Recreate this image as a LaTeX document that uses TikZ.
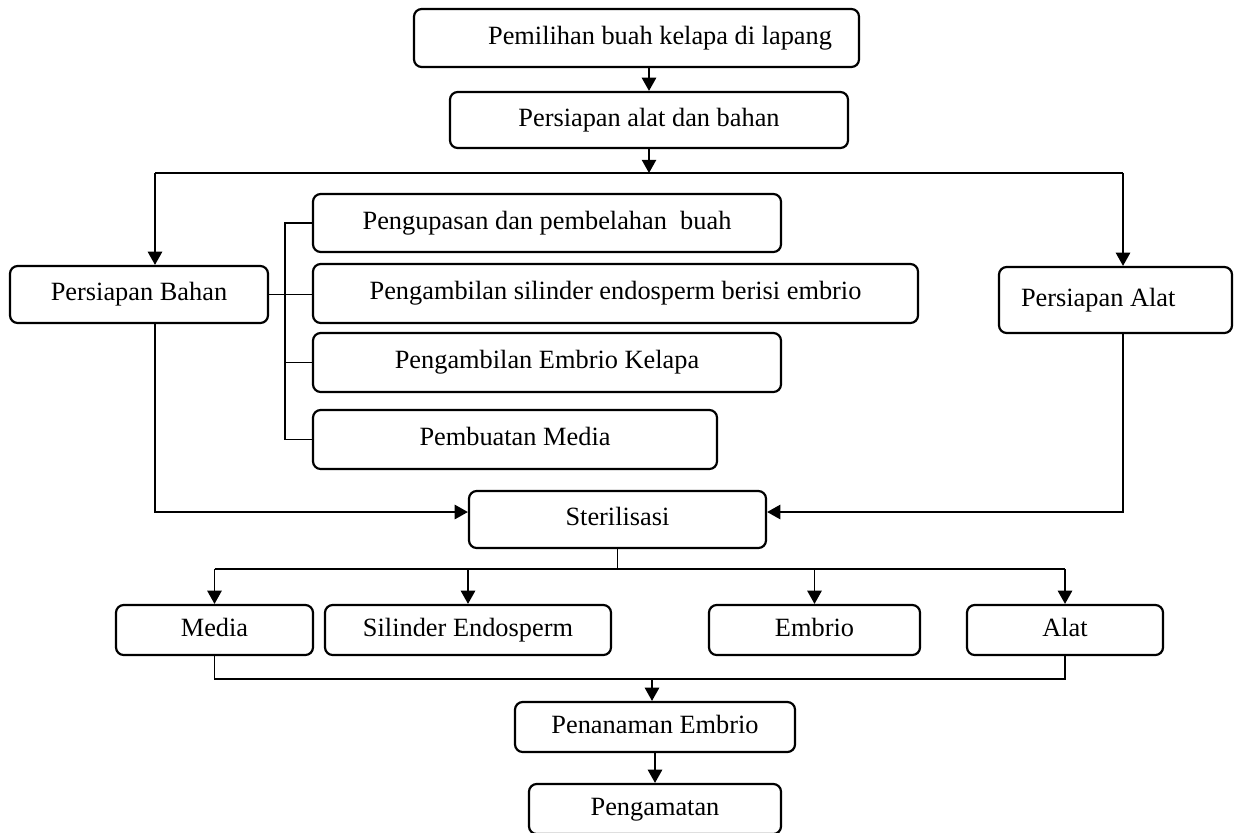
\documentclass[tikz,border=0pt]{standalone}
\usepackage{fontspec}
\setmainfont{Liberation Serif}
\usetikzlibrary{arrows.meta}

\begin{document}
\begin{tikzpicture}[x=0.016cm, y=-0.016cm,
    kotak/.style={draw, rounded corners=3.5pt, line width=1pt, inner sep=0pt,
        text height=1.6ex, text depth=0.4ex, font=\fontsize{12}{14}\selectfont},
    uk/.style 2 args={minimum width=#1*0.016cm, minimum height=#2*0.016cm},
    garis/.style={line width=0.8pt},
    panah/.style={garis, -{Triangle[length=6pt,width=6.5pt]}},
]
\useasboundingbox (0,0) rectangle (1235,832);

% alur atas
\node[kotak, minimum height=58*0.016cm, inner xsep=27*0.016cm,
      text width=391*0.016cm, align=flush right] (pilih) at (636.5,38) {Pemilihan buah kelapa di lapang};
\node[kotak, uk={398}{56}] (siap) at (649,120) {Persiapan alat dan bahan};

\node[kotak, uk={258}{57}] (bahan) at (139,294.5) {Persiapan Bahan};
\node[kotak, minimum height=66*0.016cm, inner xsep=22*0.016cm,
      text width=189*0.016cm, align=flush left] (alat) at (1115.5,300) {Persiapan Alat};

% rincian bahan
\node[kotak, uk={468}{58}] (kupas) at (547,223) {Pengupasan dan pembelahan~ buah};
\node[kotak, uk={605}{59}] (silinder) at (615.5,293.5) {Pengambilan silinder endosperm berisi embrio};
\node[kotak, uk={468}{59}] (ambil) at (547,362.5) {Pengambilan Embrio Kelapa};
\node[kotak, uk={404}{59}] (buatmedia) at (515,439.5) {Pembuatan Media};

\node[kotak, uk={297}{57}] (steril) at (617.5,519.5) {Sterilisasi};

% hasil sterilisasi
\node[kotak, uk={197}{50}] (media) at (214.5,630) {Media};
\node[kotak, uk={286}{50}] (silend) at (468,630) {Silinder Endosperm};
\node[kotak, uk={211}{50}] (embrio) at (814.5,630) {Embrio};
\node[kotak, uk={196}{50}] (alatst) at (1065,630) {Alat};

\node[kotak, uk={280}{50}] (tanam) at (655,727) {Penanaman Embrio};
\node[kotak, uk={252}{50}] (amat) at (655,809) {Pengamatan};

\coordinate (kiri) at (155,173);
\coordinate (kanan) at (1123,173);
\coordinate (brk) at (285,0);
\coordinate (cab) at (618,569);
\coordinate (gabung) at (652,679);

\draw[panah] (pilih.south -| siap.north) -- (siap.north);
\draw[panah] (siap.south) -- (siap.south |- kiri);
\draw[garis] (kiri) -- (kanan);
\draw[panah] (kiri) -- (kiri |- bahan.north);
\draw[panah] (kanan) -- (kanan |- alat.north);

\draw[garis] (bahan.east) -- (bahan.east -| silinder.west);
\draw[garis] (kupas.west) -| (brk |- buatmedia.west) -- (buatmedia.west);
\draw[garis] (ambil.west) -- (brk |- ambil.west);

\draw[panah] (kiri |- bahan.south) |- ([yshift=0.12cm]steril.west);
\draw[panah] (kanan |- alat.south) |- ([yshift=0.12cm]steril.east);

\draw[garis] (steril.south) -- (steril.south |- cab);
\draw[garis] (media.north |- cab) -- (alatst.north |- cab);
\draw[panah] (media.north |- cab) -- (media.north);
\draw[panah] (silend.north |- cab) -- (silend.north);
\draw[panah] (embrio.north |- cab) -- (embrio.north);
\draw[panah] (alatst.north |- cab) -- (alatst.north);

\draw[garis] (media.south) |- (alatst.south |- gabung) -- (alatst.south);
\draw[panah] (gabung) -- (gabung |- tanam.north);
\draw[panah] (tanam.south) -- (amat.north);

\end{tikzpicture}
\end{document}
